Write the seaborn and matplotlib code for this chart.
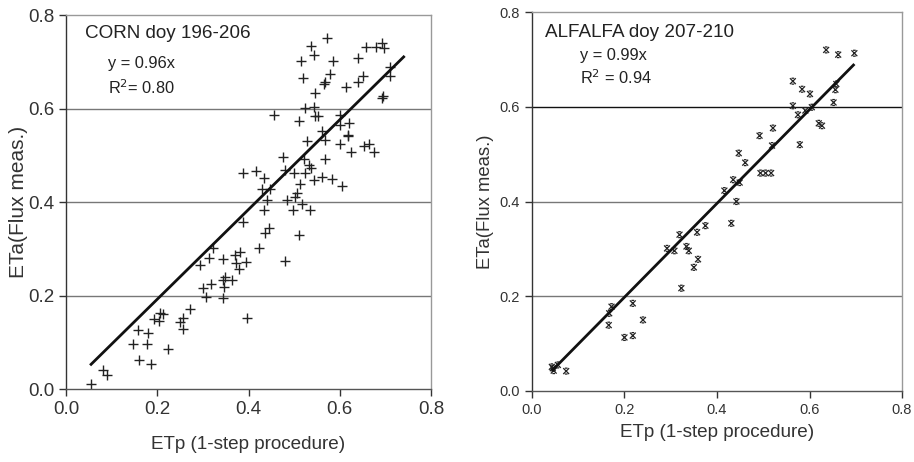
import matplotlib
matplotlib.use("Agg")
import matplotlib.pyplot as plt
from matplotlib.path import Path
import seaborn as sns
import pandas as pd
import numpy as np

# CORN doy 196-206  (ETp, ETa)
corn_etp = [0.572, 0.537, 0.543, 0.515, 0.586, 0.519, 0.579, 0.546, 0.565, 0.568,
            0.614, 0.640, 0.651, 0.641, 0.657, 0.679, 0.693, 0.696, 0.711, 0.709,
            0.693, 0.695, 0.523, 0.543, 0.546, 0.553, 0.510, 0.456, 0.601, 0.600,
            0.621, 0.619, 0.618, 0.561, 0.568, 0.528, 0.600, 0.624, 0.652, 0.663,
            0.676, 0.568, 0.475, 0.479, 0.499, 0.521, 0.532, 0.536, 0.524, 0.543,
            0.561, 0.583, 0.605, 0.513, 0.506, 0.502, 0.484, 0.497, 0.517, 0.535,
            0.510, 0.388, 0.417, 0.433, 0.429, 0.447, 0.440, 0.433, 0.389, 0.444,
            0.437, 0.424, 0.481, 0.395, 0.380, 0.373, 0.382, 0.371, 0.322, 0.313,
            0.294, 0.344, 0.349, 0.344, 0.364, 0.347, 0.301, 0.318, 0.307, 0.344,
            0.396, 0.272, 0.256, 0.250, 0.256, 0.212, 0.205, 0.192, 0.203, 0.179,
            0.157, 0.146, 0.177, 0.224, 0.161, 0.186, 0.082, 0.089, 0.054]
corn_eta = [0.751, 0.733, 0.715, 0.701, 0.701, 0.665, 0.674, 0.634, 0.653, 0.656,
            0.645, 0.656, 0.670, 0.709, 0.731, 0.731, 0.740, 0.729, 0.688, 0.669,
            0.622, 0.626, 0.601, 0.604, 0.583, 0.583, 0.574, 0.586, 0.586, 0.565,
            0.569, 0.544, 0.541, 0.551, 0.533, 0.531, 0.524, 0.508, 0.520, 0.524,
            0.508, 0.491, 0.497, 0.469, 0.463, 0.491, 0.479, 0.472, 0.461, 0.447,
            0.454, 0.449, 0.434, 0.439, 0.420, 0.411, 0.404, 0.383, 0.396, 0.383,
            0.329, 0.463, 0.466, 0.451, 0.427, 0.427, 0.404, 0.383, 0.358, 0.344,
            0.334, 0.301, 0.274, 0.272, 0.256, 0.270, 0.294, 0.286, 0.301, 0.281,
            0.265, 0.279, 0.240, 0.233, 0.233, 0.219, 0.217, 0.224, 0.196, 0.194,
            0.151, 0.172, 0.151, 0.144, 0.129, 0.161, 0.163, 0.149, 0.146, 0.120,
            0.126, 0.096, 0.096, 0.086, 0.063, 0.054, 0.040, 0.029, 0.010]

# ALFALFA doy 207-210  (ETp, ETa)
alf_etp = [0.636, 0.662, 0.697, 0.564, 0.584, 0.601, 0.658, 0.656, 0.652, 0.564,
           0.575, 0.591, 0.605, 0.620, 0.627, 0.579, 0.492, 0.521, 0.519, 0.447,
           0.461, 0.494, 0.505, 0.517, 0.435, 0.449, 0.416, 0.442, 0.431, 0.375,
           0.357, 0.319, 0.292, 0.308, 0.334, 0.339, 0.359, 0.350, 0.323, 0.218,
           0.172, 0.167, 0.240, 0.166, 0.218, 0.200, 0.043, 0.047, 0.056, 0.074,
           0.045]
alf_eta = [0.720, 0.710, 0.713, 0.654, 0.637, 0.627, 0.648, 0.636, 0.609, 0.602,
           0.583, 0.592, 0.599, 0.565, 0.560, 0.520, 0.539, 0.555, 0.518, 0.502,
           0.482, 0.460, 0.460, 0.460, 0.446, 0.440, 0.423, 0.400, 0.354, 0.349,
           0.335, 0.330, 0.301, 0.296, 0.305, 0.296, 0.278, 0.261, 0.217, 0.185,
           0.178, 0.164, 0.150, 0.139, 0.117, 0.113, 0.051, 0.043, 0.055, 0.042,
           0.048]

corn_slope, corn_r2 = 0.96, 0.80
alf_slope, alf_r2 = 0.99, 0.94
corn_fit_x = [0.055, 0.74]
alf_fit_x = [0.045, 0.695]
ticks = [0.0, 0.2, 0.4, 0.6, 0.8]

plt.rcParams["font.family"] = ["Liberation Sans", "DejaVu Sans"]

corn = pd.DataFrame({"ETp": corn_etp, "ETa": corn_eta})
alf = pd.DataFrame({"ETp": alf_etp, "ETa": alf_eta})

fig = plt.figure(figsize=(9.14, 4.62), dpi=100)
ax1 = fig.add_axes([0.0722, 0.158, 0.3994, 0.8095])
ax2 = fig.add_axes([0.582, 0.1537, 0.4049, 0.8203])

# x with short caps, like the original alfalfa symbol
xmark = Path([(-1, -1), (1, 1), (-1, 1), (1, -1),
              (-0.45, 1), (0.45, 1), (-0.45, -1), (0.45, -1)],
             [Path.MOVETO, Path.LINETO, Path.MOVETO, Path.LINETO,
              Path.MOVETO, Path.LINETO, Path.MOVETO, Path.LINETO])


def style_axes(ax, tick_size, grid_colors, ylab_size):
    ax.set_xlim(0, 0.8)
    ax.set_ylim(0, 0.8)
    ax.set_xticks(ticks)
    ax.set_yticks(ticks)
    ax.set_xticklabels([f"{t:.1f}" for t in ticks])
    ax.set_yticklabels([f"{t:.1f}" for t in ticks])
    ax.tick_params(labelsize=tick_size, colors="#333333", length=5, width=1)
    for yv, c in zip([0.2, 0.4, 0.6], grid_colors):
        ax.axhline(yv, color=c, lw=1, zorder=0)
    ax.spines["left"].set_color("#333333")
    ax.spines["bottom"].set_color("#555555")
    ax.spines["top"].set_color("#999999")
    ax.spines["right"].set_color("#999999")
    for s in ax.spines.values():
        s.set_linewidth(1)
    ax.set_xlabel("ETp (1-step procedure)", fontsize=13.6, color="#333333")
    ax.set_ylabel("ETa(Flux meas.)", fontsize=ylab_size, color="#333333")


# left: corn
sns.scatterplot(data=corn, x="ETp", y="ETa", marker="+", s=60, color="#222222",
                linewidth=1, ax=ax1)
fx = np.array(corn_fit_x)
sns.lineplot(x=fx, y=corn_slope * fx, color="#111111", linewidth=2, ax=ax1)
style_axes(ax1, 13.5, ["#777777", "#777777", "#777777"], 15)
ax1.xaxis.labelpad = 13
ax1.yaxis.labelpad = 0
ax1.text(0.042, 0.761, "CORN doy 196-206", fontsize=13.6, va="center", color="#222222")
ax1.text(0.092, 0.697, f"y = {corn_slope:.2f}x", fontsize=11.8, va="center", color="#222222")
ax1.text(0.092, 0.644, f"R$^2$= {corn_r2:.2f}", fontsize=11.8, va="center", color="#222222")

# right: alfalfa
sns.scatterplot(data=alf, x="ETp", y="ETa", marker=xmark, s=18, color="#222222",
                facecolor="none", edgecolor="#222222", linewidth=0.9, ax=ax2)
fx = np.array(alf_fit_x)
sns.lineplot(x=fx, y=alf_slope * fx, color="#111111", linewidth=2, ax=ax2)
style_axes(ax2, 10.5, ["#777777", "#777777", "#111111"], 13.3)
ax2.xaxis.labelpad = 5
ax2.yaxis.labelpad = 4
ax2.text(0.028, 0.756, "ALFALFA doy 207-210", fontsize=13.6, va="center", color="#222222")
ax2.text(0.104, 0.709, f"y = {alf_slope:.2f}x", fontsize=11.8, va="center", color="#222222")
ax2.text(0.104, 0.661, f"R$^2$ = {alf_r2:.2f}", fontsize=11.8, va="center", color="#222222")

fig.savefig("out.png", dpi=100)
